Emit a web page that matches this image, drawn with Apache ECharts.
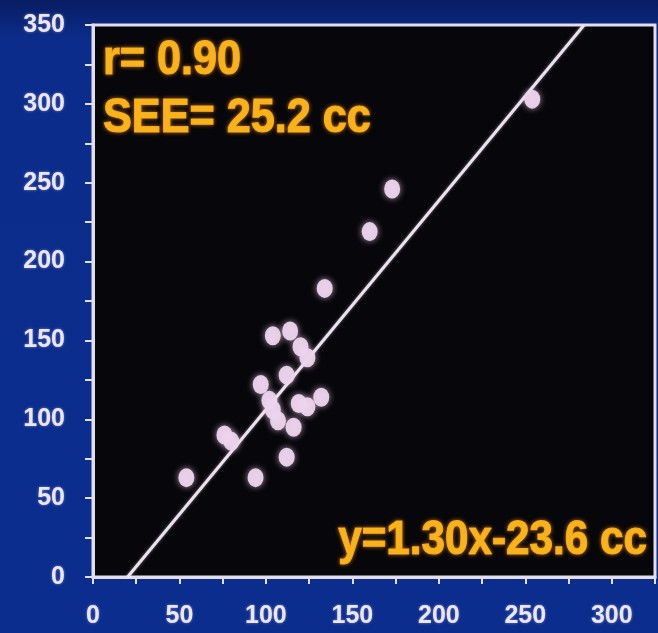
<!DOCTYPE html>
<html>
<head>
<meta charset="utf-8">
<style>
html,body{margin:0;padding:0;background:#0b2c8c;}
#chart{width:658px;height:633px;}
</style>
<script src="https://cdn.jsdelivr.net/npm/echarts@6/dist/echarts.min.js"></script>
</head>
<body>
<div id="chart"></div>
<script>
// Data
const pointsX = [54, 76, 80, 94, 97, 104, 114, 120, 124, 112, 102, 104, 107, 119, 124, 132, 116, 112, 134, 160, 173, 254];
const pointsY = [63, 90, 86, 63, 122, 153, 156, 146, 139, 128, 112, 106, 99, 110, 108, 114, 95, 76, 183, 219, 246, 303];
const regLineX = [20, 284];
const regLineY = [0, 350];
const xTickLabels = ['0', '50', '100', '150', '200', '250', '300'];
const yTickLabels = ['0', '50', '100', '150', '200', '250', '300', '350'];
const statLines = ['r= 0.90', 'SEE= 25.2 cc'];
const equationText = 'y=1.30x-23.6 cc';

const chart = echarts.init(document.getElementById('chart'));
const labelStyle = {
  color: '#ece6f4', fontFamily: 'Liberation Sans, Arial, sans-serif', fontWeight: 'bold', fontSize: 25,
  textShadowColor: 'rgba(230,220,255,0.5)', textShadowBlur: 3
};
const noteStyle = {
  fill: '#f7b21c', fontFamily: 'Liberation Sans, Arial, sans-serif', fontWeight: 'bold', fontSize: 48,
  stroke: '#f5a816', lineWidth: 1.2,
  textShadowColor: 'rgba(255,150,0,0.6)', textShadowBlur: 4,
  textVerticalAlign: 'middle'
};
const axisColor = '#e4deec';
chart.setOption({
  backgroundColor: {
    type: 'linear', x: 0, y: 0, x2: 0, y2: 1,
    colorStops: [{offset: 0, color: '#081d62'}, {offset: 0.06, color: '#0b2c8a'}, {offset: 1, color: '#0b2d8e'}]
  },
  animation: false,
  grid: {
    left: 93, right: 3, top: 25, bottom: 56, show: true,
    backgroundColor: '#07070b', borderColor: axisColor, borderWidth: 3
  },
  xAxis: {
    type: 'value', min: 0, max: 325, interval: 25,
    splitLine: {show: false},
    axisLine: {show: true, onZero: false, lineStyle: {color: axisColor, width: 3}},
    axisTick: {show: true, length: 7, lineStyle: {color: axisColor, width: 2}},
    axisLabel: Object.assign({}, labelStyle, {
      margin: 27,
      formatter: v => xTickLabels.includes(String(v)) ? String(v) : ''
    })
  },
  yAxis: {
    type: 'value', min: 0, max: 350, interval: 25,
    splitLine: {show: false},
    axisLine: {show: true, onZero: false, lineStyle: {color: axisColor, width: 3}},
    axisTick: {show: true, length: 8, lineStyle: {color: axisColor, width: 2}},
    axisLabel: Object.assign({}, labelStyle, {
      margin: 28,
      formatter: v => yTickLabels.includes(String(v)) ? String(v) : ''
    })
  },
  series: [
    {
      type: 'line',
      data: regLineX.map((x, i) => [x, regLineY[i]]),
      symbol: 'none',
      lineStyle: {color: '#ece2ee', width: 3, shadowColor: 'rgba(255,230,255,0.5)', shadowBlur: 3},
      clip: true, z: 2
    },
    {
      type: 'scatter',
      data: pointsX.map((x, i) => [x, pointsY[i]]),
      symbol: 'circle',
      symbolSize: [16, 19],
      itemStyle: {color: '#ecd4ec', opacity: 0.95, shadowColor: 'rgba(255,215,255,0.7)', shadowBlur: 6},
      z: 3
    }
  ],
  graphic: [
    {type: 'text', x: 103, y: 61, scaleX: 0.9, style: Object.assign({}, noteStyle, {text: statLines[0], textAlign: 'left'})},
    {type: 'text', x: 103, y: 119, scaleX: 0.9, style: Object.assign({}, noteStyle, {text: statLines[1], textAlign: 'left'})},
    {type: 'text', x: 647, y: 541, scaleX: 0.88, style: Object.assign({}, noteStyle, {text: equationText, textAlign: 'right'})}
  ]
});
</script>
</body>
</html>
